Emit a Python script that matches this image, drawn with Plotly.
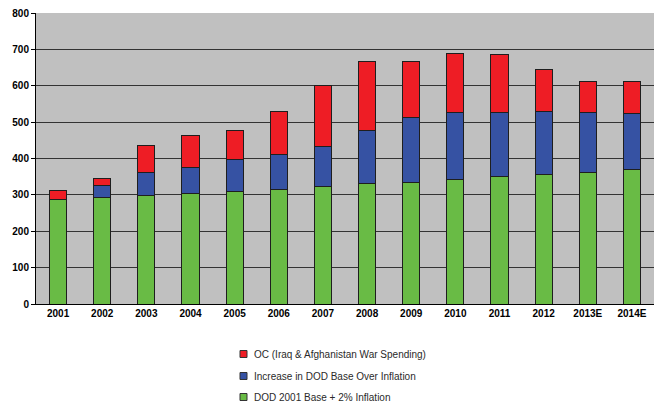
import plotly.graph_objects as go

years = ["2001", "2002", "2003", "2004", "2005", "2006", "2007", "2008",
         "2009", "2010", "2011", "2012", "2013E", "2014E"]
base = [287, 292, 298, 304, 310, 316, 322, 330, 335, 342, 351, 355, 362, 371]
increase = [0, 35, 64, 72, 88, 94, 110, 148, 178, 185, 176, 175, 165, 153]
oc = [26, 18, 75, 88, 80, 120, 168, 188, 153, 162, 159, 115, 86, 89]

names = ["DOD 2001 Base + 2% Inflation",
         "Increase in DOD Base Over Inflation",
         "OC (Iraq & Afghanistan War Spending)"]
colors = ["#69bb45", "#3652a3", "#ee1d25"]

W, H = 654, 402
ML, MR, MT, MB = 36, 0, 13, 98
PW, PH = W - ML - MR, H - MT - MB


def px_x(px):
    return (px - ML) / PW


def px_y(py):
    return (H - MB - py) / PH


fig = go.Figure()
for vals, nm, col in zip([base, increase, oc], names, colors):
    fig.add_trace(go.Bar(
        x=years, y=vals, name=nm, showlegend=False,
        marker=dict(color=col, line=dict(color="#1e1e1e", width=1)),
    ))

# legend drawn below the plot (top entry = last series)
legend_rows = [354, 376, 397]
shapes, annotations = [], []
for row_y, nm, col in zip(legend_rows, names[::-1], colors[::-1]):
    shapes.append(dict(
        type="rect", xref="paper", yref="paper",
        x0=px_x(240), x1=px_x(247), y0=px_y(row_y + 3.5), y1=px_y(row_y - 3.5),
        fillcolor=col, line=dict(color="#333333", width=1),
    ))
    annotations.append(dict(
        xref="paper", yref="paper", x=px_x(252), y=px_y(row_y),
        xanchor="left", yanchor="middle", showarrow=False, text=nm,
        font=dict(size=10, color="#2a2a2a"),
    ))

fig.update_layout(
    width=W, height=H,
    barmode="stack", bargap=0.61,
    paper_bgcolor="white", plot_bgcolor="#c0c0c0",
    margin=dict(l=ML, r=MR, t=MT, b=MB),
    font=dict(family="Liberation Sans, Arial, sans-serif", color="black"),
    showlegend=False,
    shapes=shapes, annotations=annotations,
)
fig.update_xaxes(
    showline=True, linecolor="black", linewidth=1,
    tickfont=dict(size=10, weight="bold"), ticks="", showgrid=False,
)
fig.update_yaxes(
    range=[0, 800], dtick=100, showline=True, linecolor="black", linewidth=1,
    ticks="outside", ticklen=4, tickcolor="black",
    tickfont=dict(size=10, weight="bold"),
    gridcolor="#333333", gridwidth=1, zeroline=False,
)

fig.write_html("out.html", config={"displayModeBar": False},
               post_script="document.body.style.margin='0px';")
